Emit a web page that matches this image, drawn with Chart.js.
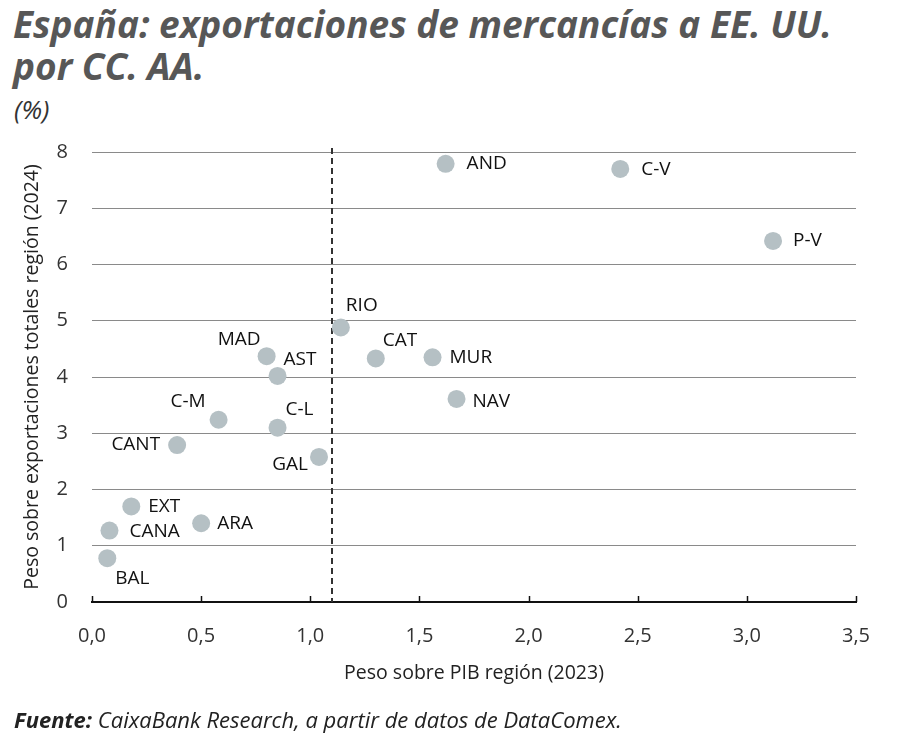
<!DOCTYPE html>
<html>
<head>
<meta charset="utf-8">
<script src="https://cdn.jsdelivr.net/npm/chart.js@4.4.1/dist/chart.umd.min.js"></script>
<style>
  body { margin: 0; background: #fff; }
  #wrap { position: relative; width: 900px; height: 740px; overflow: hidden; font-family: "Open Sans", sans-serif; }
  #title { position: absolute; left: 13px; top: 3px; font-size: 37px; line-height: 42px; font-weight: 700; font-style: italic; color: #575757; white-space: nowrap; }
  #unit { position: absolute; left: 14px; top: 91px; font-size: 26px; font-style: italic; color: #333; }
  #source { position: absolute; left: 14px; top: 704px; font-size: 22px; font-style: italic; color: #222; white-space: nowrap; }
  #source b { font-weight: 700; }
  canvas { position: absolute; left: 0; top: 0; }
</style>
</head>
<body>
<div id="wrap">
  <div id="title">España: exportaciones de mercancías a EE. UU.<br>por CC. AA.</div>
  <div id="unit">(%)</div>
  <canvas id="scatter" width="900" height="740"></canvas>
  <div id="source"><b>Fuente:</b> CaixaBank Research, a partir de datos de DataComex.</div>
</div>
<script>
// Data
const regions = ['AND', 'C-V', 'P-V', 'RIO', 'CAT', 'MUR', 'NAV', 'MAD', 'AST', 'C-M', 'C-L', 'CANT', 'GAL', 'EXT', 'CANA', 'ARA', 'BAL'];
const pibShare = [1.62, 2.42, 3.12, 1.14, 1.30, 1.56, 1.67, 0.80, 0.85, 0.58, 0.85, 0.39, 1.04, 0.18, 0.08, 0.50, 0.07];
const exportShare = [7.79, 7.70, 6.42, 4.88, 4.33, 4.35, 3.61, 4.37, 4.02, 3.24, 3.10, 2.79, 2.58, 1.70, 1.27, 1.40, 0.78];
const thresholdX = 1.1;

// Label placement next to each point: [dx, dy, align]
const labelOffsets = [
    [21, 0, 'left'], [21, 1, 'left'], [20, 0, 'left'], [5, -22, 'left'],
    [7, -18, 'left'], [17, 0, 'left'], [16, 3, 'left'], [-6, -17, 'right'],
    [6, -16, 'left'], [-13, -18, 'right'], [8, -18, 'left'], [-17, 0, 'right'],
    [-11, 8, 'right'], [17, 0, 'left'], [20, 1, 'left'], [16, 0, 'left'],
    [8, 20, 'left']
];

const pointColor = '#b5c0c4';

const overlay = {
    id: 'overlay',
    beforeDatasetsDraw(chart) {
        const { ctx, chartArea, scales } = chart;
        const x = scales.x;
        ctx.save();
        // upward tick marks on the x axis
        ctx.strokeStyle = '#111';
        ctx.lineWidth = 1.5;
        for (let v = 0; v <= 3.5001; v += 0.5) {
            const px = Math.round(x.getPixelForValue(v)) + 0.5;
            ctx.beginPath();
            ctx.moveTo(px, chartArea.bottom);
            ctx.lineTo(px, chartArea.bottom - 6);
            ctx.stroke();
        }
        // dashed threshold line
        const tx = Math.round(x.getPixelForValue(thresholdX));
        ctx.strokeStyle = '#333';
        ctx.lineWidth = 2;
        ctx.setLineDash([6, 4]);
        ctx.beginPath();
        ctx.moveTo(tx, chartArea.top - 4);
        ctx.lineTo(tx, chartArea.bottom);
        ctx.stroke();
        ctx.restore();
    },
    afterDatasetsDraw(chart) {
        const { ctx } = chart;
        const meta = chart.getDatasetMeta(0);
        ctx.save();
        ctx.font = '19px "Open Sans"';
        ctx.fillStyle = '#111';
        ctx.textBaseline = 'middle';
        meta.data.forEach((pt, i) => {
            const [dx, dy, align] = labelOffsets[i];
            ctx.textAlign = align;
            ctx.fillText(regions[i], pt.x + dx, pt.y + dy);
        });
        ctx.restore();
    }
};

new Chart(document.getElementById('scatter'), {
    type: 'scatter',
    data: {
        datasets: [{
            data: pibShare.map((v, i) => ({ x: v, y: exportShare[i] })),
            backgroundColor: pointColor,
            borderWidth: 0,
            pointRadius: 9,
            pointHoverRadius: 9
        }]
    },
    options: {
        responsive: false,
        animation: false,
        layout: { padding: { top: 152, right: 44, bottom: 50, left: 0 } },
        plugins: { legend: { display: false }, tooltip: { enabled: false } },
        scales: {
            x: {
                type: 'linear',
                min: 0,
                max: 3.5,
                afterFit(scale) { scale.height = 88; },
                grid: { display: false, drawTicks: false },
                border: { display: true, color: '#111', width: 2 },
                ticks: {
                    stepSize: 0.5,
                    padding: 22,
                    color: '#333',
                    font: { family: 'Open Sans', size: 20 },
                    callback: v => v.toFixed(1).replace('.', ',')
                },
                title: {
                    display: true,
                    text: 'Peso sobre PIB región (2023)',
                    color: '#222',
                    font: { family: 'Open Sans', size: 19.5 },
                    padding: { bottom: 5 }
                }
            },
            y: {
                min: 0,
                max: 8,
                afterFit(scale) { scale.width = 92; },
                grid: { color: '#8a8a8a', lineWidth: 1, drawTicks: false },
                border: { display: false },
                ticks: {
                    stepSize: 1,
                    padding: 24,
                    color: '#333',
                    font: { family: 'Open Sans', size: 20 }
                },
                title: {
                    display: true,
                    text: 'Peso sobre exportaciones totales región (2024)',
                    color: '#222',
                    font: { family: 'Open Sans', size: 19.5 },
                    padding: { top: 21 }
                }
            }
        }
    },
    plugins: [overlay]
});
</script>
</body>
</html>
